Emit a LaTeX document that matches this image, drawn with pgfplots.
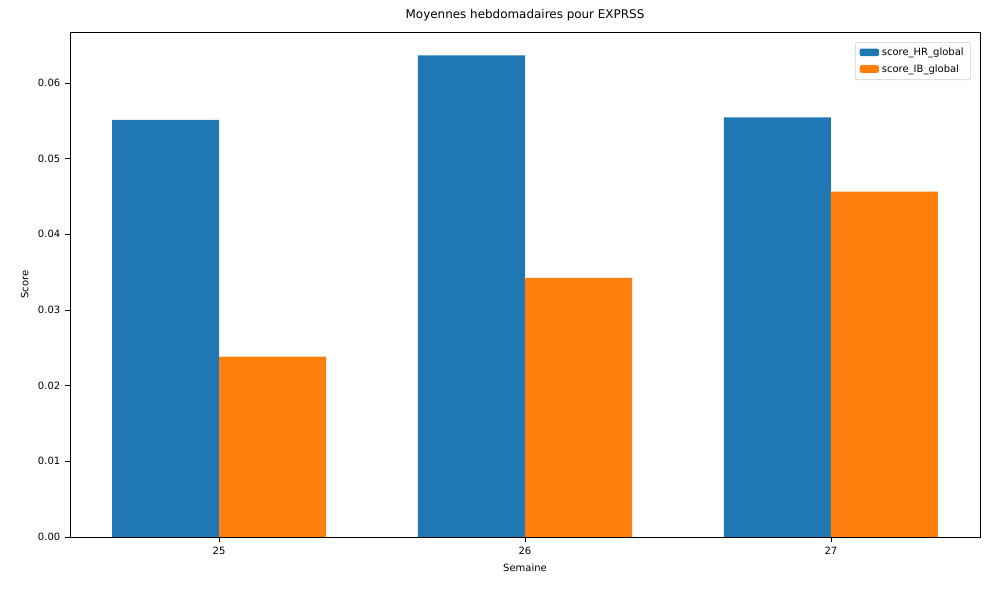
\documentclass[border=0pt]{standalone}
\usepackage{pgfplots}
\pgfplotsset{compat=1.18}
\usepackage{fontspec}
\setmainfont{DejaVu Sans}
\definecolor{mblue}{HTML}{1F77B4}
\definecolor{morange}{HTML}{FF7F0E}
\begin{document}
\begin{tikzpicture}[x=1pt,y=1pt]
\path[use as bounding box] (-50.4pt,-38.2pt) rectangle (661.7pt,386.6pt);
\begin{axis}[
  at={(0pt,0pt)}, anchor=south west,
  scale only axis, width=655.2pt, height=363.6pt,
  xmin=-0.4875, xmax=2.4875, ymin=0, ymax=0.0667,
  xtick={0,1,2}, xticklabels={25,26,27},
  ytick={0,0.01,0.02,0.03,0.04,0.05,0.06},
  yticklabel style={/pgf/number format/.cd,fixed,fixed zerofill,precision=2},
  /pgf/number format/assume math mode=true,
  scaled y ticks=false,
  xtick pos=bottom, ytick pos=left,
  tick align=outside, tick style={black}, major tick length=3.5pt,
  ticklabel style={font=\fontsize{7.2}{8}\selectfont},
  xlabel={Semaine}, ylabel={Score},
  label style={font=\fontsize{7.2}{8}\selectfont},
  title={Moyennes hebdomadaires pour EXPRSS},
  title style={font=\fontsize{8.6}{10}\selectfont, yshift=-2pt},
  legend style={at={(0.99,0.98)}, anchor=north east, font=\fontsize{7.2}{8}\selectfont, draw=black!20, rounded corners=1.5pt, row sep=1pt},
  legend cell align=left,
  legend image code/.code={\fill[#1] (0pt,-2.5pt) rectangle (14pt,3pt);},
]
\addplot[ybar, bar width=0.35, bar shift=0pt, fill=mblue, draw=none] coordinates {(-0.175,0.0551) (0.825,0.0636) (1.825,0.0554)};
\addlegendentry{score\_HR\_global}
\addplot[ybar, bar width=0.35, bar shift=0pt, fill=morange, draw=none] coordinates {(0.175,0.0238) (1.175,0.0342) (2.175,0.0456)};
\addlegendentry{score\_IB\_global}
\end{axis}
\end{tikzpicture}
\end{document}
